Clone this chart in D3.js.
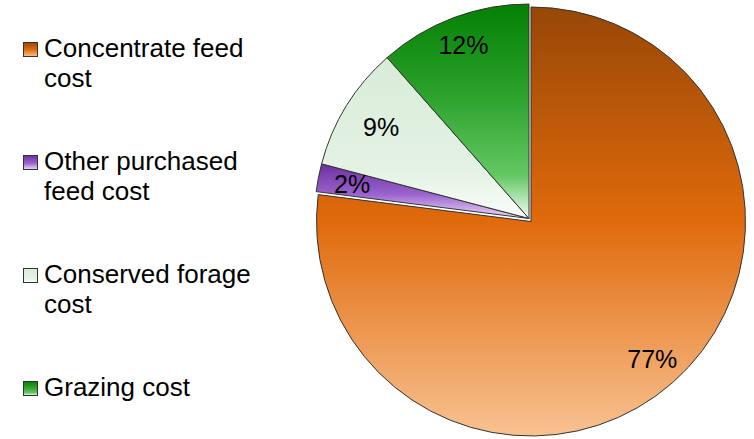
<!DOCTYPE html>
<html>
<head>
<meta charset="utf-8">
<script src="https://cdn.jsdelivr.net/npm/d3@7"></script>
<style>
  html, body { margin: 0; padding: 0; background: #fff; }
  svg { display: block; }
  text { font-family: "Liberation Sans", Arial, sans-serif; fill: #000; }
</style>
</head>
<body>
<svg id="chart" width="754" height="439"></svg>
<script>
// ---- data ----
const categories = ["Concentrate feed cost", "Other purchased feed cost", "Conserved forage cost", "Grazing cost"];
const values = [77.0, 2.1, 9.4, 11.5];
const valueLabels = ["77%", "2%", "9%", "12%"];
const legendLines = [["Concentrate feed", "cost"], ["Other purchased", "feed cost"], ["Conserved forage", "cost"], ["Grazing cost"]];

// ---- styles ----
const gradients = [
  [["0%", "#974707"], ["50%", "#e06a0b"], ["100%", "#f8c292"]],
  [["0%", "#6c2ea0"], ["55%", "#9a62cc"], ["100%", "#eadcf8"]],
  [["0%", "#d8ecd8"], ["70%", "#e4f2e4"], ["100%", "#fafdfa"]],
  [["0%", "#038003"], ["45%", "#2fa42f"], ["80%", "#64c864"], ["100%", "#f2fbf2"]]
];
const offsets = [[1, 1.5], [-1, -1.5], [-1, -1.5], [-1, -1.5]];
const labelRadius = [0.855, 0.84, 0.81, 0.865];

const svg = d3.select("#chart");
const defs = svg.append("defs");
gradients.forEach((stops, i) => {
  const g = defs.append("linearGradient").attr("id", "grad" + i)
    .attr("x1", 0).attr("y1", 0).attr("x2", 0).attr("y2", 1);
  stops.forEach(s => g.append("stop").attr("offset", s[0]).attr("stop-color", s[1]));
});

const cx = 530, cy = 220, R = 214.5;
const pie = d3.pie().sort(null).value(d => d)(values);
const arc = d3.arc().innerRadius(0).outerRadius(R);

const gPie = svg.append("g").attr("transform", `translate(${cx},${cy})`);
gPie.selectAll("path.slice").data(pie).join("path")
  .attr("class", "slice")
  .attr("transform", (d, i) => `translate(${offsets[i][0]},${offsets[i][1]})`)
  .attr("d", arc)
  .attr("fill", (d, i) => `url(#grad${i})`)
  .attr("stroke", "#333")
  .attr("stroke-width", 1)
  .attr("stroke-linejoin", "round");

gPie.selectAll("text.lbl").data(pie).join("text")
  .attr("class", "lbl")
  .attr("transform", (d, i) => {
    const r = R * labelRadius[i];
    const c = d3.arc().innerRadius(r).outerRadius(r).centroid(d);
    return `translate(${c[0] + offsets[i][0]},${c[1] + offsets[i][1]})`;
  })
  .attr("text-anchor", "middle")
  .attr("dy", "0.36em")
  .style("font-size", "25px")
  .text((d, i) => valueLabels[i]);

// ---- legend ----
const legY = d3.scalePoint().domain(categories).range([57, 396]);
const leg = svg.append("g");
const items = leg.selectAll("g.item").data(categories).join("g")
  .attr("class", "item")
  .attr("transform", d => `translate(0,${legY(d)})`);
items.append("rect")
  .attr("x", 23.5).attr("y", -14.5).attr("width", 14).attr("height", 14)
  .attr("fill", (d, i) => `url(#grad${i})`)
  .attr("stroke", "#333").attr("stroke-width", 1);
items.each(function(d, i) {
  const t = d3.select(this).append("text").attr("x", 44).attr("y", 0).style("font-size", "26px");
  legendLines[i].forEach((line, j) => {
    t.append("tspan").attr("x", 44).attr("dy", j === 0 ? 0 : 30).text(line);
  });
});
</script>
</body>
</html>
